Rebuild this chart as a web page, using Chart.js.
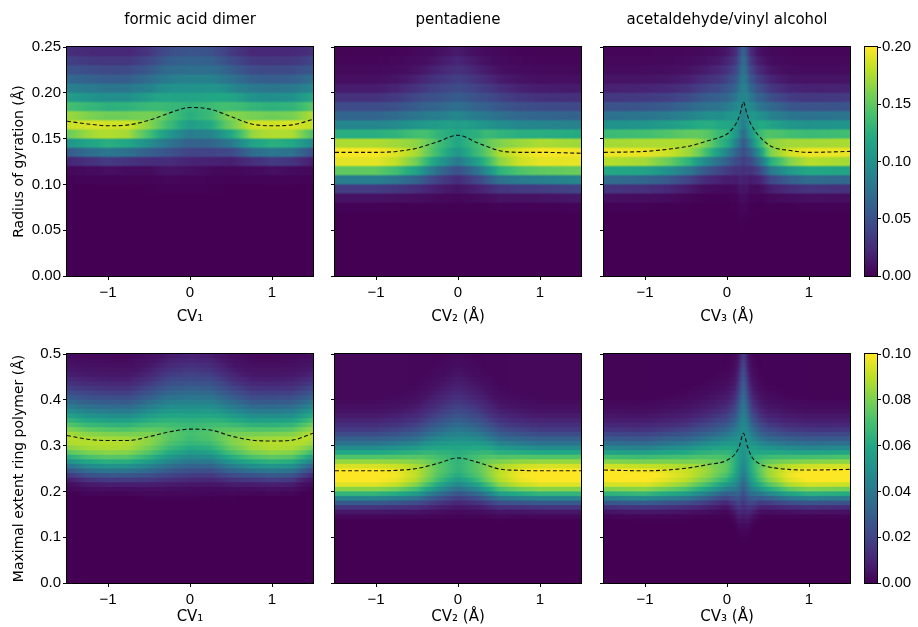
<!DOCTYPE html>
<html>
<head>
<meta charset="utf-8">
<script src="https://cdn.jsdelivr.net/npm/chart.js@4.4.0/dist/chart.umd.min.js"></script>
<style>
  html, body { margin: 0; padding: 0; background: #fff; }
  #fig { position: relative; width: 918px; height: 627px; overflow: hidden; background: #fff; }
  #fig canvas { position: absolute; }
</style>
</head>
<body>
<div id="fig"></div>
<script>
// ---------- axes ----------
const cvTicks = [-1, 0, 1];
const rgTicks = [0, 0.05, 0.10, 0.15, 0.20, 0.25];
const extTicks = [0, 0.1, 0.2, 0.3, 0.4, 0.5];
const rgBarTicks = [0, 0.05, 0.10, 0.15, 0.20];
const extBarTicks = [0, 0.02, 0.04, 0.06, 0.08, 0.10];

const titles = ['formic acid dimer', 'pentadiene', 'acetaldehyde/vinyl alcohol'];
const cvLabels = ['CV\u2081', 'CV\u2082 (\u00c5)', 'CV\u2083 (\u00c5)'];
const rowLabels = ['Radius of gyration (\u00c5)', 'Maximal extent ring polymer (\u00c5)'];

// ---------- formic acid dimer, radius of gyration ----------
const fadRgCv   = [-1.5, -1.25, -1.0, -0.75, -0.5, -0.25, 0, 0.25, 0.5, 0.75, 1.0, 1.25, 1.5];
const fadRgMean = [0.169, 0.166, 0.164, 0.165, 0.170, 0.178, 0.184, 0.182, 0.174, 0.166, 0.164, 0.165, 0.171];
const fadRgUp   = [1, 1, 1, 1, 1.1, 1.35, 1.45, 1.35, 1.1, 1, 1, 1, 1];
const fadRgDown = [1, 1, 1, 1, 1.1, 1.35, 1.45, 1.35, 1.1, 1, 1, 1, 1];
const fadRgPeak = [0.188, 0.188, 0.188, 0.185, 0.17, 0.145, 0.13, 0.14, 0.165, 0.185, 0.188, 0.188, 0.188];
// histogram column at cv = -1, bin centres 0.105 ... 0.245
const fadRgCol  = [0.002, 0.006, 0.030, 0.075, 0.120, 0.175, 0.188, 0.158, 0.130, 0.100, 0.080, 0.060, 0.045, 0.032, 0.022];

// ---------- pentadiene, radius of gyration ----------
const pentRgCv   = [-1.5, -1.0, -0.75, -0.5, -0.25, 0, 0.25, 0.5, 0.75, 1.0, 1.5];
const pentRgMean = [0.135, 0.135, 0.136, 0.1395, 0.1465, 0.1536, 0.145, 0.137, 0.135, 0.135, 0.134];
const pentRgUp   = [1, 1, 1.05, 1.15, 1.3, 1.45, 1.3, 1.15, 1.05, 1, 1];
const pentRgDown = [1, 1, 1, 1.05, 1.15, 1.25, 1.15, 1.05, 1, 1, 1];
const pentRgPeak = [0.198, 0.198, 0.19, 0.175, 0.14, 0.12, 0.14, 0.175, 0.19, 0.198, 0.198];
// bin centres 0.075 ... 0.245
const pentRgCol  = [0.001, 0.010, 0.035, 0.085, 0.150, 0.192, 0.198, 0.175, 0.125, 0.090, 0.065, 0.045, 0.028, 0.015, 0.008, 0.005, 0.003, 0.002];

// ---------- acetaldehyde / vinyl alcohol, radius of gyration ----------
const acetRgCv   = [-1.5, -1.0, -0.7, -0.45, -0.2, -0.1, 0, 0.06, 0.12, 0.16, 0.2, 0.24, 0.28, 0.37, 0.53, 0.77, 1.0, 1.5];
const acetRgMean = [0.135, 0.136, 0.1386, 0.142, 0.1485, 0.151, 0.155, 0.160, 0.168, 0.177, 0.190, 0.178, 0.168, 0.155, 0.142, 0.137, 0.135, 0.136];
const acetRgUp   = [1, 1, 1, 1.05, 1.15, 1.2, 1.3, 1.4, 1.5, 2.0, 3.0, 2.0, 1.5, 1.25, 1.1, 1, 1, 1];
const acetRgDown = [1, 1, 1, 1, 1.05, 1.1, 1.15, 1.3, 1.5, 1.9, 2.2, 1.9, 1.5, 1.2, 1.05, 1, 1, 1];
const acetRgPeak = [0.195, 0.195, 0.19, 0.18, 0.155, 0.14, 0.13, 0.12, 0.11, 0.1, 0.09, 0.1, 0.11, 0.13, 0.17, 0.19, 0.195, 0.195];
// bin centres 0.075 ... 0.245
const acetRgCol  = [0.001, 0.008, 0.030, 0.070, 0.120, 0.178, 0.195, 0.172, 0.135, 0.100, 0.075, 0.050, 0.032, 0.018, 0.010, 0.006, 0.004, 0.003];

// ---------- formic acid dimer, maximal extent ----------
const fadExtCv   = [-1.5, -1.25, -1.0, -0.75, -0.5, -0.25, 0, 0.25, 0.5, 0.75, 1.0, 1.25, 1.5];
const fadExtMean = [0.322, 0.314, 0.311, 0.311, 0.3195, 0.330, 0.336, 0.334, 0.321, 0.312, 0.310, 0.312, 0.327];
const fadExtUp   = [1, 1, 1, 1, 1.1, 1.25, 1.3, 1.25, 1.1, 1, 1, 1, 1];
const fadExtDown = [1, 1, 1, 1, 1.1, 1.2, 1.25, 1.2, 1.1, 1, 1, 1, 1];
const fadExtPeak = [0.089, 0.089, 0.089, 0.088, 0.083, 0.075, 0.07, 0.073, 0.081, 0.087, 0.089, 0.089, 0.089];
// bin centres 0.195 ... 0.495
const fadExtCol  = [0.002, 0.004, 0.009, 0.018, 0.028, 0.040, 0.052, 0.064, 0.075, 0.083, 0.088, 0.089, 0.086, 0.080, 0.072,
                    0.064, 0.056, 0.048, 0.041, 0.034, 0.028, 0.023, 0.018, 0.014, 0.011, 0.008, 0.006, 0.005, 0.004, 0.003, 0.002];

// ---------- pentadiene, maximal extent ----------
const pentExtCv   = [-1.5, -1.0, -0.75, -0.5, -0.25, 0, 0.25, 0.5, 0.75, 1.0, 1.5];
const pentExtMean = [0.245, 0.245, 0.246, 0.250, 0.261, 0.273, 0.263, 0.249, 0.246, 0.245, 0.245];
const pentExtUp   = [1, 1, 1.05, 1.15, 1.4, 1.6, 1.4, 1.15, 1.05, 1, 1];
const pentExtDown = [1, 1, 1, 1.05, 1.15, 1.25, 1.15, 1.05, 1, 1, 1];
const pentExtPeak = [0.101, 0.101, 0.098, 0.09, 0.075, 0.065, 0.075, 0.09, 0.098, 0.101, 0.101];
// bin centres 0.145 ... 0.495
const pentExtCol  = [0.002, 0.006, 0.015, 0.028, 0.045, 0.065, 0.082, 0.095, 0.100, 0.101, 0.100, 0.094, 0.084, 0.072, 0.060, 0.048,
                     0.038, 0.030, 0.023, 0.017, 0.013, 0.010, 0.007, 0.005, 0.004, 0.003, 0.002, 0.002, 0.002, 0.002, 0.002,
                     0.002, 0.002, 0.002, 0.002, 0.002];

// ---------- acetaldehyde / vinyl alcohol, maximal extent ----------
const acetExtCv   = [-1.5, -1.0, -0.5, -0.25, 0, 0.1, 0.15, 0.2, 0.25, 0.3, 0.4, 0.5, 0.75, 1.0, 1.5];
const acetExtMean = [0.2467, 0.245, 0.2505, 0.258, 0.268, 0.282, 0.298, 0.327, 0.298, 0.276, 0.260, 0.254, 0.248, 0.2467, 0.248];
const acetExtUp   = [1, 1, 1.1, 1.2, 1.35, 1.6, 2.1, 3.0, 2.1, 1.6, 1.3, 1.15, 1.05, 1, 1];
const acetExtDown = [1, 1, 1.05, 1.1, 1.15, 1.5, 1.9, 2.2, 1.9, 1.5, 1.15, 1.05, 1, 1, 1];
const acetExtPeak = [0.102, 0.102, 0.093, 0.085, 0.075, 0.063, 0.055, 0.05, 0.055, 0.063, 0.075, 0.085, 0.097, 0.102, 0.102];
// bin centres 0.145 ... 0.495
const acetExtCol  = [0.001, 0.005, 0.013, 0.026, 0.043, 0.063, 0.080, 0.093, 0.100, 0.102, 0.100, 0.093, 0.082, 0.070, 0.058, 0.046,
                     0.036, 0.028, 0.021, 0.015, 0.011, 0.008, 0.006, 0.004, 0.003, 0.002, 0.001, 0.001, 0.001, 0.001, 0.001,
                     0.001, 0.001, 0.001, 0.001, 0.001];

// ---------- panel table ----------
const panels = [
  { row: 0, col: 0, cv: fadRgCv,  mean: fadRgMean,  up: fadRgUp,  down: fadRgDown,  peak: fadRgPeak,  col0: fadRgCol,  from: 0.105, ref: 0.165 },
  { row: 0, col: 1, cv: pentRgCv, mean: pentRgMean, up: pentRgUp, down: pentRgDown, peak: pentRgPeak, col0: pentRgCol, from: 0.075, ref: 0.135 },
  { row: 0, col: 2, cv: acetRgCv, mean: acetRgMean, up: acetRgUp, down: acetRgDown, peak: acetRgPeak, col0: acetRgCol, from: 0.075, ref: 0.135 },
  { row: 1, col: 0, cv: fadExtCv,  mean: fadExtMean,  up: fadExtUp,  down: fadExtDown,  peak: fadExtPeak,  col0: fadExtCol,  from: 0.195, ref: 0.310 },
  { row: 1, col: 1, cv: pentExtCv, mean: pentExtMean, up: pentExtUp, down: pentExtDown, peak: pentExtPeak, col0: pentExtCol, from: 0.145, ref: 0.245 },
  { row: 1, col: 2, cv: acetExtCv, mean: acetExtMean, up: acetExtUp, down: acetExtDown, peak: acetExtPeak, col0: acetExtCol, from: 0.145, ref: 0.247 },
];
const rows = [
  { yMax: 0.25, ticks: rgTicks,  bar: rgBarTicks,  vmax: 0.20, digits: 2 },
  { yMax: 0.50, ticks: extTicks, bar: extBarTicks, vmax: 0.10, digits: 1 },
];
const BIN = 0.01;

// ---------- colour map ----------
const VIRIDIS = ['#440154', '#482475', '#414487', '#355f8d', '#2a788e', '#21918c',
                 '#22a884', '#44bf70', '#7ad151', '#bddf26', '#fde725'];
const viridisRgb = VIRIDIS.map(h => [1, 3, 5].map(i => parseInt(h.slice(i, i + 2), 16)));
function viridis(t) {
  t = Math.min(1, Math.max(0, t)) * (viridisRgb.length - 1);
  const i = Math.min(Math.floor(t), viridisRgb.length - 2), f = t - i;
  const a = viridisRgb[i], b = viridisRgb[i + 1];
  return [0, 1, 2].map(k => Math.round(a[k] + (b[k] - a[k]) * f));
}

// piecewise-linear lookup along the CV knots
function interp(xs, ys, x) {
  if (x <= xs[0]) return ys[0];
  if (x >= xs[xs.length - 1]) return ys[ys.length - 1];
  let i = 1;
  while (xs[i] < x) i++;
  const f = (x - xs[i - 1]) / (xs[i] - xs[i - 1]);
  return ys[i - 1] + (ys[i] - ys[i - 1]) * f;
}
function sampleCol(p, y) {
  const k = (y - p.from) / BIN;
  if (k < 0) return Math.max(0, p.col0[0] * (1 + k));
  if (k >= p.col0.length - 1) return p.col0[p.col0.length - 1];
  const i = Math.floor(k), f = k - i;
  return p.col0[i] + (p.col0[i + 1] - p.col0[i]) * f;
}
// density at (cv, y): the reference column shifted onto the mean curve and stretched
function density(p, x, y) {
  const m = interp(p.cv, p.mean, x);
  const d = y - m;
  const s = d >= 0 ? interp(p.cv, p.up, x) : interp(p.cv, p.down, x);
  const colMax = Math.max(...p.col0);
  return sampleCol(p, p.ref + d / s) * interp(p.cv, p.peak, x) / colMax;
}

const NX = 120, SUB = 4;
function heatImage(p) {
  const r = rows[p.row];
  const nBins = Math.round(r.yMax / BIN);
  const c = document.createElement('canvas');
  c.width = NX; c.height = nBins * SUB;
  const g = c.getContext('2d');
  const img = g.createImageData(c.width, c.height);
  for (let i = 0; i < NX; i++) {
    const x = -1.5 + (i + 0.5) * 3 / NX;
    for (let j = 0; j < nBins; j++) {
      const y = r.yMax - (j + 0.5) * BIN;
      const rgb = viridis(density(p, x, y) / r.vmax);
      for (let s = 0; s < SUB; s++) {
        const k = ((j * SUB + s) * NX + i) * 4;
        img.data[k] = rgb[0]; img.data[k + 1] = rgb[1]; img.data[k + 2] = rgb[2]; img.data[k + 3] = 255;
      }
    }
  }
  g.putImageData(img, 0, 0);
  return c;
}

// ---------- layout ----------
const plotLeft = [67, 335, 604];
const plotTop = [47, 354];
const plotW = 246, plotH = 229;
const xAxisH = [50, 44];
const tickFont = { family: 'Liberation Sans', size: 15 };
const labelFont = { family: 'DejaVu Sans', size: 15, weight: 'normal' };
const fig = document.getElementById('fig');

function addCanvas(left, top, w, h) {
  const c = document.createElement('canvas');
  c.width = w; c.height = h;
  c.style.left = left + 'px'; c.style.top = top + 'px';
  c.style.width = w + 'px'; c.style.height = h + 'px';
  fig.appendChild(c);
  return c;
}
function frame(ctx, a) {
  ctx.save();
  ctx.strokeStyle = '#000';
  ctx.lineWidth = 1;
  ctx.strokeRect(a.left - 0.5, a.top - 0.5, a.right - a.left + 1, a.bottom - a.top + 1);
  ctx.restore();
}
const fmtCv = v => (v < 0 ? '\u2212' + Math.abs(v) : String(v));

function makePanel(p) {
  const r = rows[p.row];
  const yw = p.col === 0 ? 67 : 20;
  const xh = xAxisH[p.row];
  const cnv = addCanvas(plotLeft[p.col] - yw, plotTop[p.row] - 47, yw + plotW + 10, 47 + plotH + xh);
  const image = heatImage(p);

  const heat = {
    id: 'heat' + p.row + p.col,
    beforeDatasetsDraw(chart) {
      const { ctx, scales: { x, y } } = chart;
      const x0 = x.getPixelForValue(-1.5), x1 = x.getPixelForValue(1.5);
      const y0 = y.getPixelForValue(r.yMax), y1 = y.getPixelForValue(0);
      ctx.save();
      ctx.imageSmoothingEnabled = true;
      ctx.imageSmoothingQuality = 'high';
      ctx.drawImage(image, x0, y0, x1 - x0, y1 - y0);
      ctx.restore();
    },
    afterDatasetsDraw(chart) { frame(chart.ctx, chart.chartArea); }
  };

  new Chart(cnv, {
    type: 'line',
    data: {
      datasets: [{
        data: p.cv.map((x, i) => ({ x, y: p.mean[i] })),
        borderColor: '#111',
        borderWidth: 1.1,
        borderDash: [4, 2.5],
        pointRadius: 0,
        cubicInterpolationMode: 'monotone',
        fill: false,
      }]
    },
    options: {
      responsive: false,
      animation: false,
      devicePixelRatio: 1,
      events: [],
      layout: { padding: { top: p.row === 0 ? 0 : 47, right: 10, left: 0, bottom: 0 } },
      plugins: {
        legend: { display: false },
        tooltip: { enabled: false },
        title: {
          display: p.row === 0,
          text: titles[p.col],
          fullSize: false,
          color: '#000',
          font: labelFont,
          padding: { top: 11, bottom: 18 },
        },
      },
      scales: {
        x: {
          type: 'linear', min: -1.5, max: 1.5,
          afterBuildTicks: s => { s.ticks = cvTicks.map(v => ({ value: v })); },
          afterFit: s => { s.height = xh; },
          ticks: { callback: fmtCv, color: '#000', font: tickFont, padding: 4, maxRotation: 0, autoSkip: false },
          grid: { display: true, drawOnChartArea: false, drawTicks: true, tickLength: 4, color: '#000' },
          border: { display: false },
          title: { display: true, text: cvLabels[p.col], color: '#000', font: labelFont,
                   padding: { top: 0, bottom: p.row === 0 ? 0 : 1 } },
        },
        y: {
          type: 'linear', min: 0, max: r.yMax,
          afterBuildTicks: s => { s.ticks = r.ticks.map(v => ({ value: v })); },
          afterFit: s => { s.width = yw; },
          ticks: {
            callback: v => (p.col === 0 ? v.toFixed(r.digits) : ''),
            color: '#000', font: tickFont, padding: 2, autoSkip: false,
          },
          grid: { display: true, drawOnChartArea: false, drawTicks: true, tickLength: 4, color: '#000' },
          border: { display: false },
          title: { display: p.col === 0, text: rowLabels[p.row], color: '#000',
                   font: { family: 'DejaVu Sans', size: 14 }, padding: { top: 11 } },
        },
      },
    },
    plugins: [heat],
  });
}

function makeColorbar(row) {
  const r = rows[row];
  const cnv = addCanvas(855, plotTop[row] - 47, 75, 47 + plotH + 10);
  const bar = {
    id: 'bar' + row,
    afterDraw(chart) {
      const { ctx, chartArea: a } = chart;
      const g = ctx.createLinearGradient(0, a.bottom, 0, a.top);
      VIRIDIS.forEach((c, i) => g.addColorStop(i / (VIRIDIS.length - 1), c));
      ctx.save();
      ctx.fillStyle = g;
      ctx.fillRect(a.left, a.top, a.right - a.left, a.bottom - a.top);
      ctx.restore();
      frame(ctx, a);
    }
  };
  new Chart(cnv, {
    type: 'line',
    data: { datasets: [] },
    options: {
      responsive: false,
      animation: false,
      devicePixelRatio: 1,
      events: [],
      layout: { padding: { top: 47, left: 10, right: 0, bottom: 10 } },
      plugins: { legend: { display: false }, tooltip: { enabled: false } },
      scales: {
        x: { type: 'linear', min: 0, max: 1, display: false },
        y: {
          type: 'linear', position: 'right', min: 0, max: r.vmax,
          afterBuildTicks: s => { s.ticks = r.bar.map(v => ({ value: v })); },
          afterFit: s => { s.width = 53; },
          ticks: { callback: v => v.toFixed(2), color: '#000', font: tickFont, padding: 1, autoSkip: false },
          grid: { display: true, drawOnChartArea: false, drawTicks: true, tickLength: 4, color: '#000' },
          border: { display: false },
        },
      },
    },
    plugins: [bar],
  });
}

panels.forEach(makePanel);
makeColorbar(0);
makeColorbar(1);
</script>
</body>
</html>
